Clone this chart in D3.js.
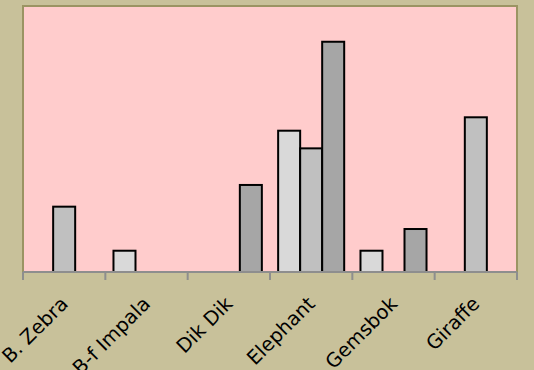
<!DOCTYPE html>
<html>
<head>
<meta charset="utf-8">
<script src="https://cdn.jsdelivr.net/npm/d3@7"></script>
<style>
html,body{margin:0;padding:0;background:#C8C19A;}
svg{display:block;}
</style>
</head>
<body>
<div id="chart"></div>
<script>
const categories = ["B. Zebra", "B-f Impala", "Dik Dik", "Elephant", "Gemsbok", "Giraffe"];
const seriesNames = ["Series 1", "Series 2", "Series 3"];
const series1 = [0, 1.0, 0, 6.64, 1.0, 0];
const series2 = [3.07, 0, 0, 5.81, 0, 7.27];
const series3 = [0, 0, 4.09, 10.82, 2.02, 0];
const seriesColors = ["#D9D9D9", "#C0C0C0", "#A6A6A6"];
const yMax = 12.5;

const W = 534, H = 370;
const m = {left: 23, right: 17, top: 6, bottom: 98};

const svg = d3.select("#chart").append("svg").attr("width", W).attr("height", H);
svg.append("rect").attr("width", W).attr("height", H).attr("fill", "#C8C19A");

const x = d3.scaleBand().domain(categories).range([m.left, W - m.right]).padding(0);
const xi = d3.scaleBand().domain(seriesNames).range([0, x.bandwidth()]).paddingOuter(0.37).paddingInner(0);
const y = d3.scaleLinear().domain([0, yMax]).range([H - m.bottom, m.top]);

// plot area
svg.append("rect")
  .attr("x", m.left).attr("y", m.top)
  .attr("width", W - m.left - m.right).attr("height", H - m.top - m.bottom)
  .attr("fill", "#FFCCCC").attr("stroke", "#9B9463").attr("stroke-width", 2);

const allSeries = [series1, series2, series3];
const data = [];
categories.forEach((c, i) => {
  allSeries.forEach((s, j) => {
    if (s[i] > 0) data.push({cat: c, ser: seriesNames[j], v: s[i], color: seriesColors[j]});
  });
});

svg.append("g").selectAll("rect").data(data).join("rect")
  .attr("x", d => x(d.cat) + xi(d.ser))
  .attr("y", d => y(d.v))
  .attr("width", xi.bandwidth())
  .attr("height", d => y(0) - y(d.v))
  .attr("fill", d => d.color)
  .attr("stroke", "#000").attr("stroke-width", 2);

// x axis
const ax = svg.append("g").attr("transform", `translate(0,${H - m.bottom})`);
ax.append("line").attr("x1", m.left).attr("x2", W - m.right).attr("y1", 0).attr("y2", 0)
  .attr("stroke", "#8E8E8E").attr("stroke-width", 2);
const tickXs = categories.map(c => x(c)).concat([x(categories[categories.length - 1]) + x.bandwidth()]);
ax.selectAll("line.tick").data(tickXs).join("line").attr("class", "tick")
  .attr("x1", d => d).attr("x2", d => d).attr("y1", 0).attr("y2", 8)
  .attr("stroke", "#8E8E8E").attr("stroke-width", 2);

ax.selectAll("text").data(categories).join("text")
  .attr("transform", d => `translate(${x(d) + x.bandwidth() / 2 + 5},33) rotate(-45)`)
  .attr("text-anchor", "end")
  .attr("font-family", "DejaVu Sans, Verdana, sans-serif")
  .attr("font-size", 19.5)
  .attr("fill", "#000")
  .text(d => d);
</script>
</body>
</html>
